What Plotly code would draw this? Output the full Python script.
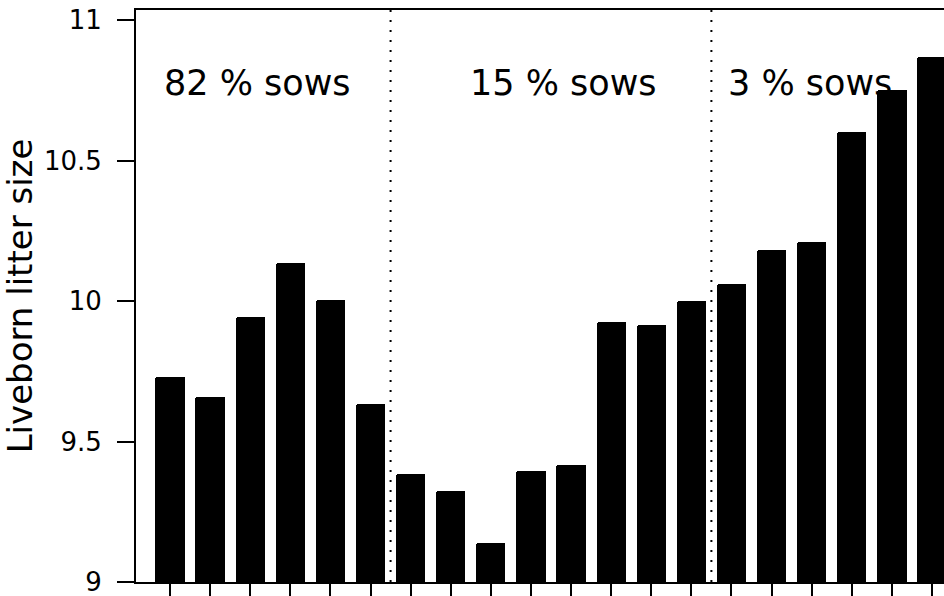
import plotly.graph_objects as go

positions = list(range(1, 21))
litter_size = [9.73, 9.66, 9.945, 10.135, 10.005, 9.635, 9.385, 9.325, 9.14, 9.395,
               9.415, 9.925, 9.915, 10.0, 10.06, 10.18, 10.21, 10.6, 10.75, 10.87]
group_labels = ["82 % sows", "15 % sows", "3 % sows"]
group_label_x = [3.19, 10.8, 16.96]
group_label_y = 10.775
group_bounds = [6.5, 14.5]
y_ticks = [9, 9.5, 10, 10.5, 11]
y_tick_text = ["9", "9.5", "10", "10.5", "11"]

font_family = "DejaVu Sans, Liberation Sans, sans-serif"

fig = go.Figure()
fig.add_trace(go.Bar(
    x=positions, y=litter_size,
    width=0.73,
    marker=dict(color="black", line=dict(width=0), cornerradius=2),
    hoverinfo="skip",
))

for xb in group_bounds:
    fig.add_shape(type="line", xref="x", yref="paper", x0=xb, x1=xb, y0=0, y1=1,
                  line=dict(color="black", width=2, dash="2px,8px"), layer="below")

for lab, xl in zip(group_labels, group_label_x):
    fig.add_annotation(x=xl, y=group_label_y, xref="x", yref="y", text=lab, showarrow=False,
                       xanchor="center", yanchor="middle",
                       font=dict(family=font_family, size=35, color="black"))

fig.update_layout(
    width=944, height=596,
    margin=dict(l=136, r=0, t=10, b=14, autoexpand=False),
    paper_bgcolor="white", plot_bgcolor="white",
    showlegend=False,
    font=dict(family=font_family, color="black"),
    bargap=0,
)
fig.update_xaxes(
    range=[0.152, 20.3], showgrid=False, zeroline=False, automargin=False,
    tickmode="array", tickvals=positions, ticktext=[""] * 20,
    ticks="outside", ticklen=14, tickwidth=1.5, tickcolor="black",
    showline=True, linecolor="black", linewidth=2, mirror=True,
)
fig.update_yaxes(
    range=[9, 11.036], showgrid=False, zeroline=False, automargin=False,
    tickmode="array", tickvals=y_ticks, ticktext=y_tick_text,
    ticks="outside", ticklen=17, tickwidth=2, tickcolor="black",
    showline=True, linecolor="black", linewidth=2,
    ticklabelstandoff=10, ticklabeloverflow="allow",
    tickfont=dict(size=26, family=font_family),
    title=dict(text="Liveborn litter size", font=dict(size=34, family=font_family), standoff=1),
)

fig.write_html("out.html", config={"displayModeBar": False},
               post_script="document.body.style.margin='0';document.body.style.overflow='hidden';")
